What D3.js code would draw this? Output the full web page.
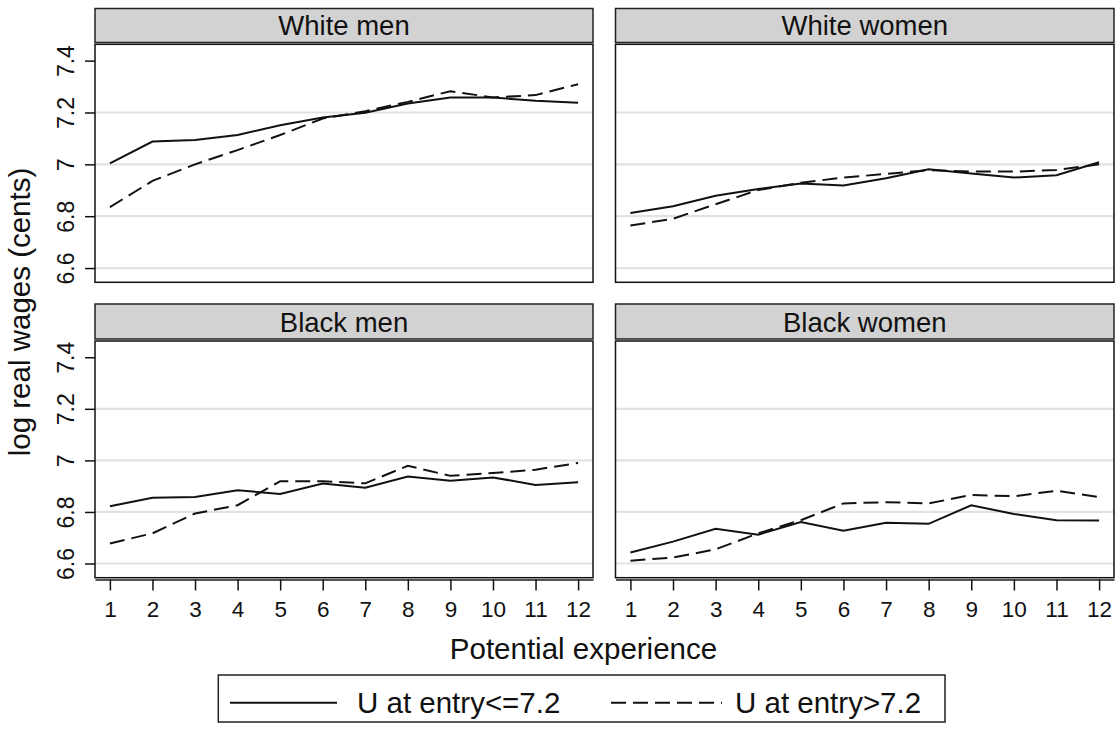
<!DOCTYPE html>
<html>
<head>
<meta charset="utf-8">
<script src="https://cdn.jsdelivr.net/npm/d3@7"></script>
<style>
  html, body { margin: 0; padding: 0; background: #fff; }
  svg { display: block; font-family: "Liberation Sans", Arial, Helvetica, sans-serif; }
</style>
</head>
<body>
<svg id="chart" width="1119" height="729"></svg>
<script>
// Years of potential experience on the x axis
const experience = [1, 2, 3, 4, 5, 6, 7, 8, 9, 10, 11, 12];
const experienceLabels = ["1", "2", "3", "4", "5", "6", "7", "8", "9", "10", "11", "12"];

// Panel titles
const groups = ["White men", "White women", "Black men", "Black women"];

// Mean log real wages, entry unemployment <= 7.2
const lowWhiteMen   = [7.004, 7.088, 7.094, 7.113, 7.151, 7.181, 7.199, 7.235, 7.258, 7.258, 7.245, 7.238];
const lowWhiteWomen = [6.812, 6.838, 6.879, 6.905, 6.926, 6.918, 6.946, 6.981, 6.965, 6.949, 6.958, 7.008];
const lowBlackMen   = [6.822, 6.855, 6.858, 6.884, 6.870, 6.910, 6.894, 6.937, 6.921, 6.934, 6.905, 6.915];
const lowBlackWomen = [6.643, 6.685, 6.735, 6.712, 6.761, 6.727, 6.758, 6.754, 6.826, 6.792, 6.768, 6.767];

// Mean log real wages, entry unemployment > 7.2
const highWhiteMen   = [6.835, 6.936, 7.000, 7.055, 7.113, 7.177, 7.205, 7.241, 7.282, 7.258, 7.267, 7.309];
const highWhiteWomen = [6.764, 6.790, 6.846, 6.901, 6.929, 6.949, 6.963, 6.978, 6.972, 6.972, 6.978, 7.000];
const highBlackMen   = [6.678, 6.717, 6.794, 6.826, 6.919, 6.919, 6.911, 6.979, 6.940, 6.951, 6.964, 6.990];
const highBlackWomen = [6.611, 6.623, 6.655, 6.717, 6.768, 6.833, 6.838, 6.833, 6.866, 6.861, 6.882, 6.858];

// y axis labels and grid
const yTicks = [6.6, 6.8, 7, 7.2, 7.4];
const yTickLabels = ["6.6", "6.8", "7", "7.2", "7.4"];
const yGrid = [6.6, 6.8, 7, 7.2];

const seriesNames = ["U at entry<=7.2", "U at entry>7.2"];

const lowSeries  = [lowWhiteMen, lowWhiteWomen, lowBlackMen, lowBlackWomen];
const highSeries = [highWhiteMen, highWhiteWomen, highBlackMen, highBlackWomen];

// ---- layout ----
const svg = d3.select("#chart");
const cols = [{ x0: 95, x1: 593 }, { x0: 615.5, x1: 1114 }];
const rows = [
  { h0: 8.5, h1: 42.5, p0: 44.3, p1: 282.3 },
  { h0: 304, h1: 339, p0: 341, p1: 577.7 }
];
const yDomain = [6.545, 7.463];
const xDomain = [0.65, 12.35];
const dash = "15,7";
const ink = "#111";

groups.forEach((name, i) => {
  const c = cols[i % 2], r = rows[Math.floor(i / 2)];
  const x = d3.scaleLinear().domain(xDomain).range([c.x0, c.x1]);
  const y = d3.scaleLinear().domain(yDomain).range([r.p1, r.p0]);
  const g = svg.append("g");

  // header strip
  g.append("rect")
    .attr("x", c.x0).attr("y", r.h0)
    .attr("width", c.x1 - c.x0).attr("height", r.h1 - r.h0)
    .attr("fill", "#d2d2d2").attr("stroke", "#222").attr("stroke-width", 1.5);
  g.append("text")
    .attr("x", (c.x0 + c.x1) / 2).attr("y", r.h1 - 7.5)
    .attr("text-anchor", "middle").attr("font-size", 27.5).attr("fill", ink)
    .text(name);

  // plot background
  g.append("rect")
    .attr("x", c.x0).attr("y", r.p0)
    .attr("width", c.x1 - c.x0).attr("height", r.p1 - r.p0)
    .attr("fill", "#fff");

  // grid lines
  g.selectAll(".grid").data(yGrid).enter().append("line")
    .attr("x1", c.x0).attr("x2", c.x1)
    .attr("y1", d => y(d)).attr("y2", d => y(d))
    .attr("stroke", "#e2e2e2").attr("stroke-width", 2.2);

  // series lines
  const line = d3.line().x((d, k) => x(experience[k])).y(d => y(d));
  g.append("path").datum(lowSeries[i])
    .attr("d", line).attr("fill", "none")
    .attr("stroke", ink).attr("stroke-width", 2);
  g.append("path").datum(highSeries[i])
    .attr("d", line).attr("fill", "none")
    .attr("stroke", ink).attr("stroke-width", 2)
    .attr("stroke-dasharray", dash);

  // frame
  g.append("rect")
    .attr("x", c.x0).attr("y", r.p0)
    .attr("width", c.x1 - c.x0).attr("height", r.p1 - r.p0)
    .attr("fill", "none").attr("stroke", ink).attr("stroke-width", 1.5);

  // left axis on first column
  if (i % 2 === 0) {
    const ya = g.append("g").attr("transform", `translate(${c.x0},0)`)
      .call(d3.axisLeft(y).tickValues(yTicks)
        .tickFormat((d, k) => yTickLabels[k]).tickSize(10).tickSizeOuter(0));
    ya.select(".domain").remove();
    ya.selectAll(".tick line").attr("stroke", ink).attr("stroke-width", 1.5);
    ya.selectAll(".tick text")
      .attr("x", null).attr("dy", null)
      .attr("transform", "translate(-21,0) rotate(-90)")
      .attr("text-anchor", "middle")
      .attr("font-size", 23).attr("font-family", "Liberation Sans, Arial, sans-serif")
      .attr("fill", ink);
  }

  // bottom axis on the lower row
  if (Math.floor(i / 2) === 1) {
    const xa = g.append("g").attr("transform", `translate(0,${r.p1 + 1.8})`)
      .call(d3.axisBottom(x).tickValues(experience)
        .tickFormat((d, k) => experienceLabels[k]).tickSize(11).tickSizeOuter(0));
    xa.select(".domain").attr("stroke", "#555").attr("stroke-width", 2);
    xa.selectAll(".tick line").attr("stroke", ink).attr("stroke-width", 1.5);
    xa.selectAll(".tick text")
      .attr("y", 37).attr("dy", null)
      .attr("font-size", 22.5).attr("font-family", "Liberation Sans, Arial, sans-serif")
      .attr("fill", ink);
  }
});

// axis titles
svg.append("text")
  .attr("transform", "translate(30,312) rotate(-90)")
  .attr("text-anchor", "middle").attr("font-size", 29.5).attr("fill", ink)
  .text("log real wages (cents)");
svg.append("text")
  .attr("x", 583.5).attr("y", 659)
  .attr("text-anchor", "middle").attr("font-size", 29.5).attr("fill", ink)
  .text("Potential experience");

// legend
const leg = svg.append("g");
leg.append("rect")
  .attr("x", 218.3).attr("y", 675).attr("width", 945 - 218.3).attr("height", 47)
  .attr("fill", "#fff").attr("stroke", "#222").attr("stroke-width", 1.5);
const legendItems = [
  { x0: 230, x1: 337, tx: 357, dash: null },
  { x0: 611, x1: 722, tx: 735, dash: dash }
];
legendItems.forEach((it, k) => {
  leg.append("line")
    .attr("x1", it.x0).attr("x2", it.x1).attr("y1", 702.7).attr("y2", 702.7)
    .attr("stroke", ink).attr("stroke-width", 2)
    .attr("stroke-dasharray", it.dash);
  leg.append("text")
    .attr("x", it.tx).attr("y", 713)
    .attr("font-size", 29.5).attr("fill", ink)
    .text(seriesNames[k]);
});
</script>
</body>
</html>
